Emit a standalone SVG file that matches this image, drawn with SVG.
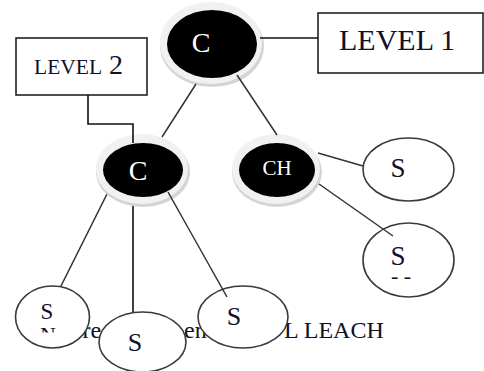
<svg xmlns="http://www.w3.org/2000/svg" width="484" height="371" viewBox="0 0 484 371">
<style>
text{font-family:"Liberation Serif","Times New Roman",serif;fill:#10102a}
.w{fill:#fff}
.sh{fill:#d4d4d4}
.halo{fill:#f2f0f2}
.blk{fill:#000}
.sn{fill:#fff;stroke:#3a3a3a;stroke-width:1.6}
.box{fill:#fff;stroke:#222;stroke-width:1.6}
.ln{fill:none;stroke:#333;stroke-width:1.5}
.ln2{fill:none;stroke:#111;stroke-width:1.6}
</style>
<defs><clipPath id="frag"><rect x="38" y="326" width="22" height="6.5"/></clipPath></defs>
<rect width="484" height="371" fill="#fff"/>
<g id="caption"><text x="82.500" y="338" font-size="24">re</text><text x="184" y="338" font-size="24">en</text><text x="284" y="338" font-size="24">L LEACH</text></g>
<g id="connectors-back">
<path class="ln2" d="M133 197V312"/><path class="ln" d="M108 192L61 286"/><path class="ln" d="M318 153L363 166"/>
</g>
<g id="level1"><rect class="box" x="318" y="13" width="165" height="60"/><text x="339" y="50" font-size="30">LEVEL 1</text></g>
<g id="level2"><rect class="box" x="16" y="38" width="131" height="57"/><text x="34" y="74" font-size="21.500">LEVEL<tspan x="109" font-size="28">2</tspan></text></g>
<g id="node-c1"><ellipse class="sh" cx="212" cy="46" rx="52" ry="41"/><ellipse class="halo" cx="211" cy="43" rx="51" ry="41"/><ellipse class="blk" cx="212" cy="44" rx="45" ry="34"/><text class="w" x="201" y="52" font-size="28" text-anchor="middle">C</text></g>
<g id="node-c2"><ellipse class="sh" cx="143" cy="172" rx="47" ry="35"/><ellipse class="halo" cx="142" cy="169" rx="46" ry="35"/><ellipse class="blk" cx="143" cy="170" rx="40" ry="27"/><text class="w" x="138" y="180" font-size="28" text-anchor="middle">C</text></g>
<g id="node-ch"><ellipse class="sh" cx="277" cy="172" rx="45" ry="35"/><ellipse class="halo" cx="276" cy="169" rx="44" ry="35"/><ellipse class="blk" cx="277" cy="170" rx="38" ry="27"/><text class="w" x="277" y="175" font-size="21" text-anchor="middle">CH</text></g>
<g id="node-s1"><ellipse class="sn" cx="408.500" cy="169.500" rx="45.500" ry="31.500"/><text x="398" y="177" font-size="27" text-anchor="middle">S</text></g>
<g id="node-s2"><ellipse class="sn" cx="408.500" cy="260" rx="45.500" ry="37"/><text x="398" y="265" font-size="27" text-anchor="middle">S</text><text x="401" y="283" font-size="22" text-anchor="middle">- -</text></g>
<g id="node-s3"><ellipse class="sn" cx="52.500" cy="317" rx="37" ry="31"/><text x="47" y="319" font-size="23" text-anchor="middle">S</text><text x="48" y="342" font-size="22" text-anchor="middle" clip-path="url(#frag)">N</text></g>
<g id="node-s4"><ellipse class="sn" cx="142.500" cy="342" rx="43.500" ry="30"/><text x="135" y="351" font-size="26" text-anchor="middle">S</text></g>
<g id="node-s5"><ellipse class="sn" cx="243" cy="317" rx="45" ry="31"/><text x="234" y="325" font-size="26" text-anchor="middle">S</text></g>
<g id="connectors">
<path class="ln2" d="M260 38H318"/>
<path class="ln2" d="M88 95V124H133V143"/>
<path class="ln" d="M196 84L162 137"/>
<path class="ln" d="M237 75L277 135"/>
<path class="ln" d="M319 184L393 236"/>
<path class="ln" d="M168 192L227 297"/>
</g>
</svg>
